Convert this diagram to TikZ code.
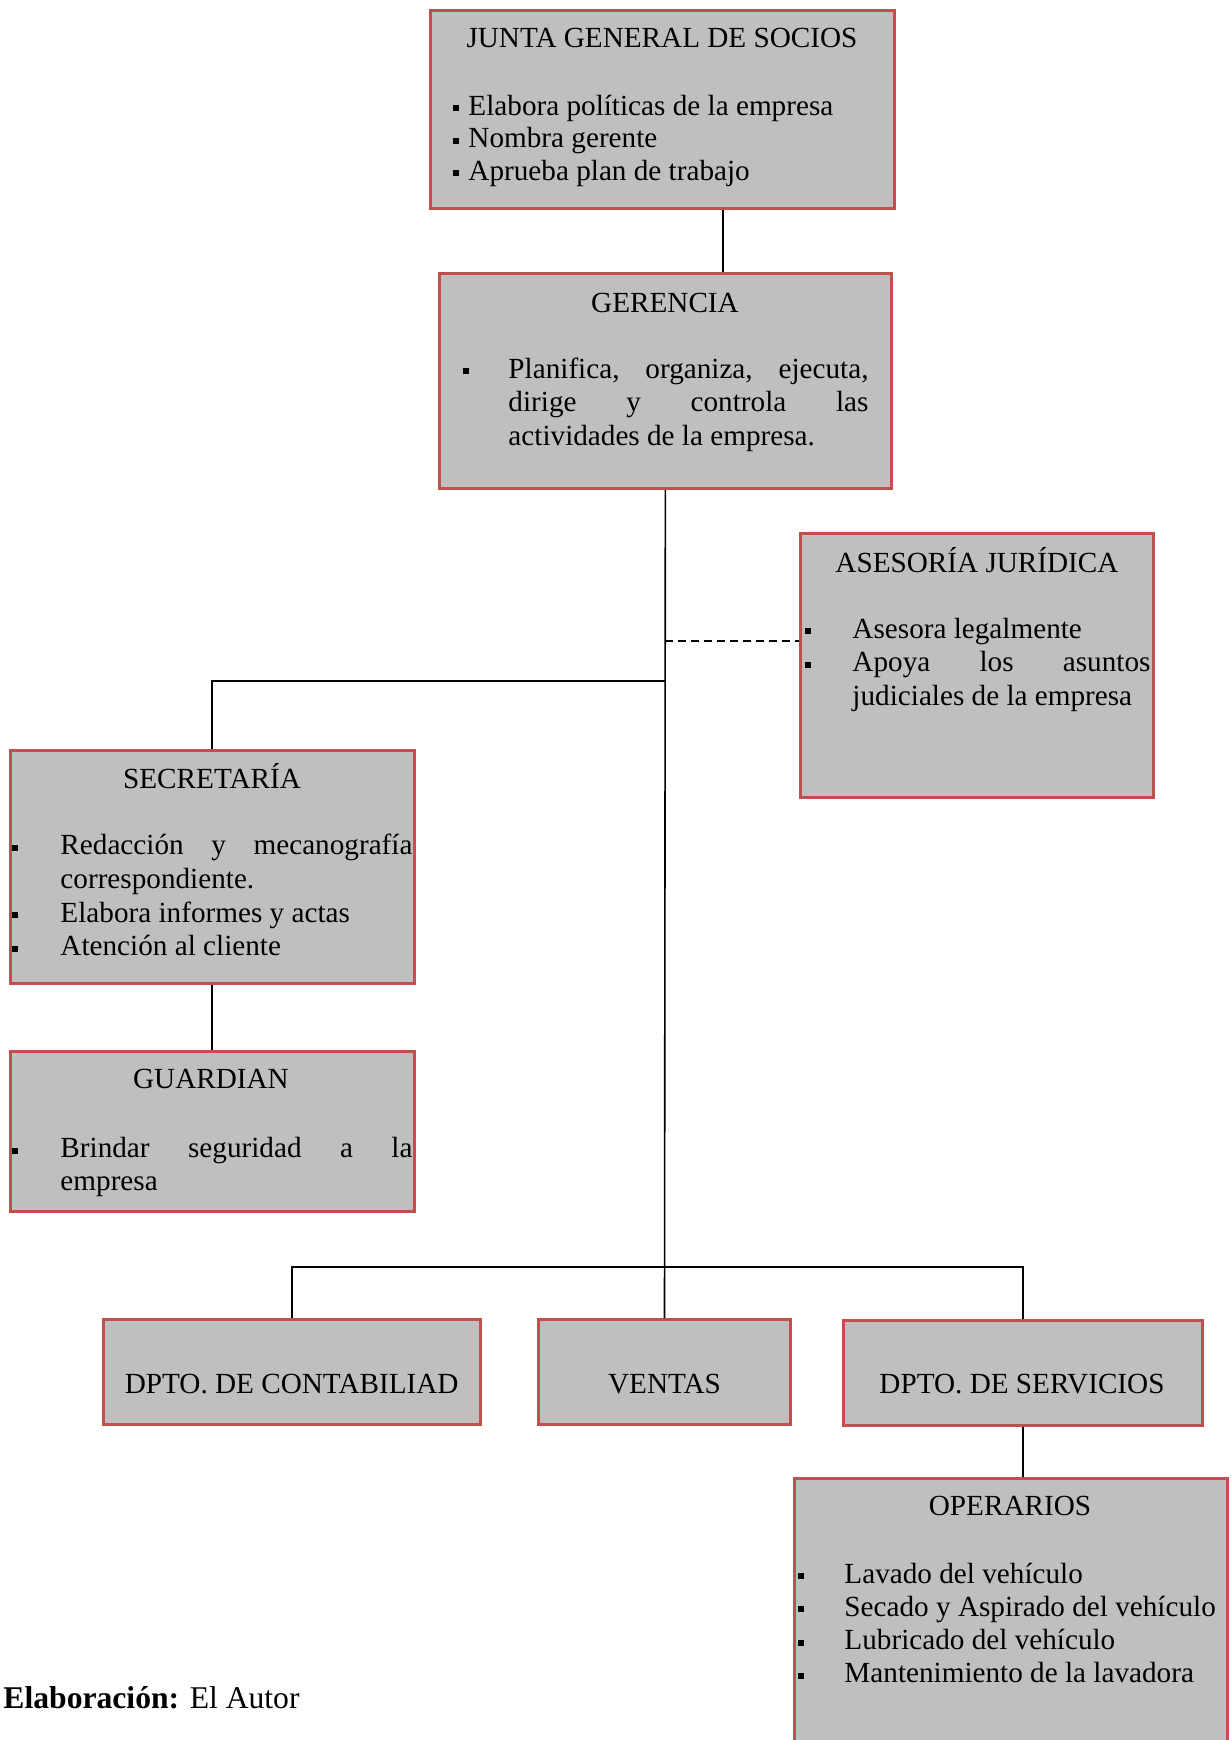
\documentclass[tikz,border=0pt]{standalone}
\usepackage{fontspec}
\setmainfont{Liberation Serif}
\usetikzlibrary{fit}
\definecolor{boxred}{HTML}{C0504D}
\definecolor{boxgray}{HTML}{BFBFBF}
% one drawing unit
\newdimen\px \px=0.411pt
% small square bullet and a hanging list item
\newcommand\sqbul{\rule[4\px]{6\px}{6\px}}
\newcommand\bitem[2]{\noindent\hangindent=#1\hangafter=1\makebox[#1][l]{\sqbul}#2\par}
\hbadness=10000
\begin{document}
\begin{tikzpicture}[x=0.411pt,y=-0.411pt,
  font=\fontsize{12}{13.7}\selectfont,
  orgbox/.style={draw=boxred,fill=boxgray,line width=3\px,inner sep=0pt},
  title/.style={anchor=base,inner sep=0pt},
  duties/.style={anchor=base west,inner sep=0pt,align=justify},
  link/.style={line width=1.6\px,black}]
\clip (0,0) rectangle (1232,1740);

% boxes
\node[orgbox,fit={(430.5,10.5) (894,208.5)}] (junta) {};
\node[orgbox,fit={(439,273.7) (891.7,488.7)}] (gerencia) {};
\node[orgbox,fit={(800,533.7) (1153.3,797.3)}] (asesoria) {};
\node[orgbox,fit={(10,750.7) (414.3,983.4)}] (secretaria) {};
\node[orgbox,fit={(10,1051.4) (414.3,1211.8)}] (guardian) {};
\node[orgbox,fit={(103,1319.7) (480.5,1424.7)}] (contab) {};
\node[orgbox,fit={(538.7,1319.7) (790.3,1424.7)}] (ventas) {};
\node[orgbox,fit={(843,1320.3) (1202.7,1425.5)}] (servicios) {};
\node[orgbox,fit={(794.7,1478) (1227.3,1800)}] (operarios) {};

% titles
\node[title] (t-junta) at (662,48) {JUNTA GENERAL DE SOCIOS};
\node[title] (t-gerencia) at (665,312) {GERENCIA};
\node[title] (t-asesoria) at (977,572) {ASESORÍA JURÍDICA};
\node[title] (t-secretaria) at (212,788.6) {SECRETARÍA};
\node[title] (t-guardian) at (211,1088.6) {GUARDIAN};
\node[title] (t-operarios) at (1010,1515) {OPERARIOS};
\node[title] (t-contab) at (291.7,1393) {DPTO. DE CONTABILIAD};
\node[title] (t-ventas) at (664.5,1393) {VENTAS};
\node[title] (t-servicios) at (1022,1393) {DPTO. DE SERVICIOS};

% duties
\node[duties,text width=430\px] (d-junta) at (453,115) {%
  \setlength\baselineskip{32.5\px}%
  \bitem{15\px}{Elabora políticas de la empresa}%
  \bitem{15\px}{Nombra gerente}%
  \bitem{15\px}{Aprueba plan de trabajo}};
\node[duties,text width=405\px] (d-gerencia) at (463,378) {%
  \setlength\baselineskip{33.5\px}%
  \bitem{45\px}{Planifica, organiza, ejecuta,\linebreak dirige y controla las\linebreak actividades de la empresa.}};
\node[duties,text width=345\px] (d-asesoria) at (805,638) {%
  \setlength\baselineskip{33.5\px}%
  \bitem{47\px}{Asesora legalmente}%
  \bitem{47\px}{Apoya los asuntos\linebreak judiciales de la empresa}};
\node[duties,text width=400\px] (d-secretaria) at (12,854.6) {%
  \setlength\baselineskip{33.7\px}%
  \bitem{48\px}{Redacción y mecanografía\linebreak correspondiente.}%
  \bitem{48\px}{Elabora informes y actas}%
  \bitem{48\px}{Atención al cliente}};
\node[duties,text width=400\px] (d-guardian) at (12,1157.5) {%
  \setlength\baselineskip{32.5\px}%
  \bitem{48\px}{Brindar seguridad a la\linebreak empresa}};
\node[duties,text width=430\px] (d-operarios) at (798,1583) {%
  \setlength\baselineskip{33.3\px}%
  \bitem{46\px}{Lavado del vehículo}%
  \bitem{46\px}{Secado y Aspirado del vehículo}%
  \bitem{46\px}{Lubricado del vehículo}%
  \bitem{46\px}{Mantenimiento de la lavadora}};

% credit line
\node[anchor=base west,inner sep=0pt,font=\fontsize{13}{15}\selectfont] (credit) at (3,1708)
  {\textbf{Elaboración:} El Autor};

% connectors
\coordinate (jg) at (722.7,0);
\draw[link] (jg |- junta.south) -- (jg |- gerencia.north);
\draw[link] (gerencia.south) -- (ventas.north);
\coordinate (ajunct) at (664.5,641.3);
\draw[link,line width=2.2\px,dash pattern=on 8\px off 5\px] (ajunct) -- (ajunct -| asesoria.west);
\coordinate (sjunct) at (664.5,680.7);
\draw[link] (sjunct) -| (secretaria.north);
\draw[link] (secretaria.south) -- (guardian.north);
\coordinate (bus) at (664.5,1267);
\draw[link] (contab.north) |- (bus) -| (servicios.north);
\draw[link] (servicios.south) -- (servicios.south |- operarios.north);
\end{tikzpicture}
\end{document}
